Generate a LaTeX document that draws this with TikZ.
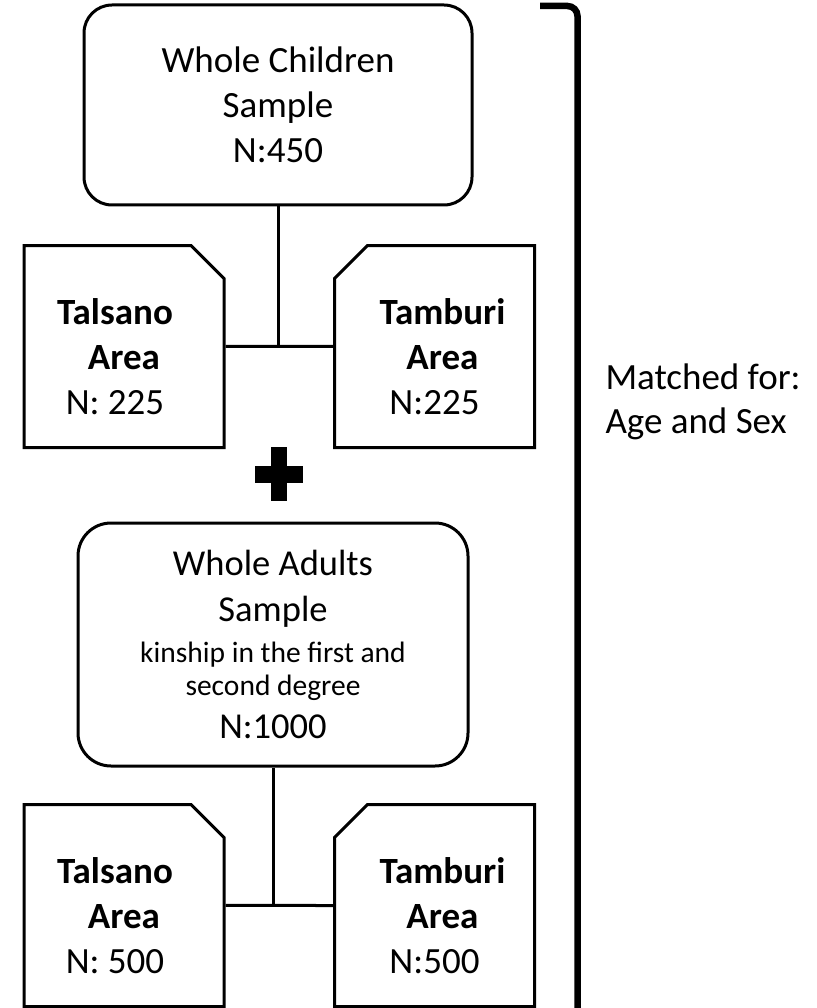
\documentclass[tikz,border=0pt]{standalone}
\usepackage{fontspec}
\setmainfont{Carlito}
\usetikzlibrary{shapes.misc}

\begin{document}
\begin{tikzpicture}[x=1pt, y=-1pt, line width=3pt,
    sample/.style={draw, rounded corners=28pt, align=center,
      font=\fontsize{37}{45}\selectfont},
    area/.style={draw, chamfered rectangle,
      chamfered rectangle xsep=16.5pt, chamfered rectangle ysep=16.5pt,
      minimum width=200pt, minimum height=202pt, align=center,
      font=\fontsize{37}{45}\selectfont}]
  \useasboundingbox (0,0) rectangle (816,1008);

  % children
  \node[sample, minimum width=388pt, minimum height=200pt] (1) at (278,105)
    {Whole Children\\Sample\\N:450};
  \node[area, chamfered rectangle corners=north east] (2) at (124,346.5)
    {\rule{0pt}{46pt}\textbf{Talsano}\hspace*{18pt}\\\textbf{Area}\hspace*{18pt}\\N: 225\hspace*{18pt}};
  \node[area, chamfered rectangle corners=north west] (3) at (434.5,346.5)
    {\rule{0pt}{46pt}\hspace*{16pt}\textbf{Tamburi}\\\hspace*{16pt}\textbf{Area}\\N:225};

  \draw (1) -- (1 |- 2.east);
  \draw (2) -- (3);

  \fill (255,466) rectangle (303,483);
  \fill (271,447) rectangle (287,501);

  % adults
  \node[sample, minimum width=390pt, minimum height=243pt, rounded corners=33pt,
    font=\fontsize{36.5}{46}\selectfont] (4) at (273,644.5)
    {Whole Adults\\Sample\\[-5pt]{\fontsize{29.5}{33}\selectfont kinship in the first and}\\[-13pt]
     {\fontsize{29.5}{33}\selectfont second degree}\\[-3pt]N:1000};
  \node[area, chamfered rectangle corners=north east] (5) at (124,905.5)
    {\rule{0pt}{46pt}\textbf{Talsano}\hspace*{18pt}\\\textbf{Area}\hspace*{18pt}\\N: 500\hspace*{18pt}};
  \node[area, chamfered rectangle corners=north west] (6) at (434.5,905.5)
    {\rule{0pt}{46pt}\hspace*{16pt}\textbf{Tamburi}\\\hspace*{16pt}\textbf{Area}\\N:500};

  \draw (4) -- (4 |- 5.east);
  \draw (5) -- (6);

  \draw[line width=6.5pt, rounded corners=10pt] (540,6) -- (577.5,6) -- (577.5,1015);
  \node[anchor=west, inner sep=0pt, align=left, font=\fontsize{37}{44}\selectfont] (matched) at (604,402)
    {Matched for:\\Age and Sex};
\end{tikzpicture}
\end{document}
